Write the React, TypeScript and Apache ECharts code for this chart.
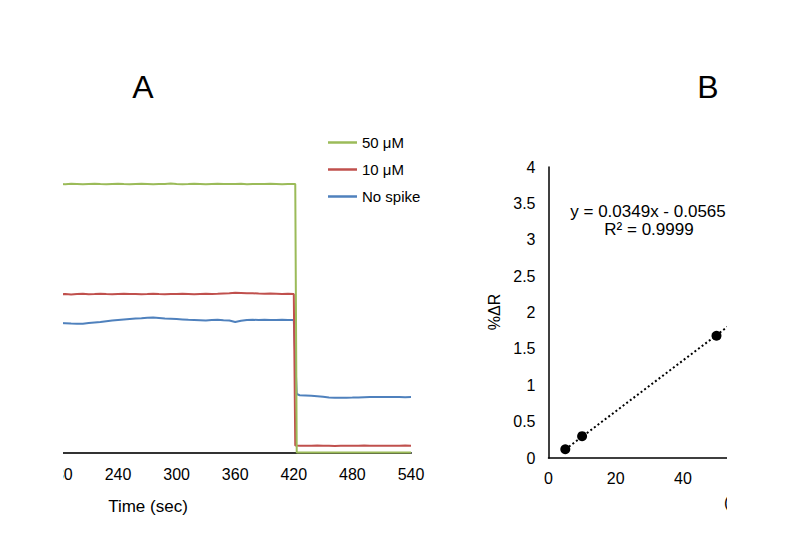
import React, { useEffect, useRef } from "react";
import * as echarts from "echarts";

const FONT = "'Liberation Sans', Arial, Helvetica, sans-serif";

// Panel A: time (sec)
const times = [
  180, 186, 192, 198, 204, 210, 216, 222, 228, 234, 240, 246, 252, 258, 264, 270, 276, 282, 288, 294,
  300, 306, 312, 318, 324, 330, 336, 342, 348, 354, 360, 366, 372, 378, 384, 390, 396, 402, 408, 414, 420,
  421.5, 423,
  426, 432, 438, 444, 450, 456, 462, 468, 474, 480, 486, 492, 498, 504, 510, 516, 522, 528, 534, 540,
];

const green50 = [
  2.69, 2.688, 2.692, 2.69, 2.687, 2.691, 2.693, 2.69, 2.688, 2.69, 2.692, 2.689, 2.687, 2.69, 2.693, 2.691,
  2.688, 2.69, 2.691, 2.694, 2.69, 2.688, 2.689, 2.692, 2.69, 2.687, 2.69, 2.693, 2.691, 2.689, 2.69, 2.692,
  2.688, 2.69, 2.691, 2.689, 2.692, 2.69, 2.688, 2.691, 2.69,
  2.689, 0.006,
  0.006, 0.005, 0.006, 0.005, 0.006, 0.005, 0.005, 0.006, 0.005, 0.006, 0.005, 0.005, 0.006, 0.005, 0.006,
  0.005, 0.005, 0.006, 0.005, 0.006,
];

const red10 = [
  1.588, 1.59, 1.586, 1.589, 1.592, 1.588, 1.59, 1.593, 1.589, 1.587, 1.59, 1.592, 1.589, 1.591, 1.588, 1.59,
  1.593, 1.59, 1.588, 1.591, 1.589, 1.592, 1.59, 1.588, 1.591, 1.593, 1.59, 1.592, 1.595, 1.598, 1.602, 1.6,
  1.597, 1.598, 1.594, 1.592, 1.595, 1.593, 1.59, 1.592, 1.589,
  0.076, 0.074,
  0.073, 0.072, 0.073, 0.074, 0.072, 0.073, 0.071, 0.072, 0.073, 0.072, 0.073, 0.074, 0.073, 0.072, 0.073,
  0.073, 0.072, 0.073, 0.074, 0.073,
];

const blueNoSpike = [
  1.3, 1.298, 1.294, 1.292, 1.293, 1.3, 1.305, 1.31, 1.318, 1.325, 1.33, 1.335, 1.34, 1.345, 1.348, 1.352,
  1.355, 1.35, 1.345, 1.343, 1.34, 1.336, 1.332, 1.33, 1.328, 1.326, 1.33, 1.332, 1.328, 1.325, 1.31, 1.322,
  1.33, 1.332, 1.33, 1.333, 1.331, 1.33, 1.332, 1.33, 1.33,
  0.95, 0.59,
  0.578, 0.575, 0.572, 0.568, 0.562, 0.556, 0.553, 0.552, 0.553, 0.554, 0.556, 0.558, 0.559, 0.56, 0.561,
  0.56, 0.559, 0.56, 0.558, 0.559,
];

const timeTicks = { min: 180, max: 540, interval: 60 };

// Panel B: calibration
const concX = [5, 10, 50];
const deltaR = [0.12, 0.3, 1.68];
const trendX = [5, 60];
const trendY = [0.118, 2.038];
const equationText = "y = 0.0349x - 0.0565";
const r2Text = "R² = 0.9999";

const seriesNames = ["50 μM", "10 μM", "No spike"];
const seriesColors = ["#9BBB59", "#C0504D", "#4F81BD"];

export default function App() {
  const ref = useRef<HTMLDivElement>(null);

  useEffect(() => {
    if (!ref.current) return;
    const chart = echarts.init(ref.current, null, { renderer: "svg" });
    const seriesValues = [green50, red10, blueNoSpike];

    const lineSeries = seriesValues.map((vals, i) => ({
      name: seriesNames[i],
      type: "line",
      xAxisIndex: 0,
      yAxisIndex: 0,
      data: times.map((t, j) => [t, vals[j]]),
      showSymbol: false,
      symbol: "none",
      color: seriesColors[i],
      lineStyle: { color: seriesColors[i], width: 2 },
      z: 5 - i,
    }));

    const option = {
      animation: false,
      textStyle: { fontFamily: FONT },
      grid: [
        { left: 59.4, top: 153, width: 351.6, height: 300 },
        { left: 548.5, top: 167, width: 201.6, height: 291 },
      ],
      xAxis: [
        {
          gridIndex: 0,
          type: "value",
          min: timeTicks.min,
          max: timeTicks.max,
          interval: timeTicks.interval,
          axisLine: { lineStyle: { color: "#333", width: 2 } },
          axisTick: { show: false },
          splitLine: { show: false },
          axisLabel: { color: "#000", fontSize: 16, margin: 13, fontFamily: FONT },
        },
        {
          gridIndex: 1,
          type: "value",
          min: 0,
          max: 60,
          interval: 20,
          axisLine: { lineStyle: { color: "#000", width: 1.5 } },
          axisTick: { show: false },
          splitLine: { show: false },
          axisLabel: { color: "#000", fontSize: 16, margin: 12, fontFamily: FONT },
        },
      ],
      yAxis: [
        { gridIndex: 0, type: "value", min: 0, max: 3, show: false },
        {
          gridIndex: 1,
          type: "value",
          min: 0,
          max: 4,
          interval: 0.5,
          axisLine: { show: true, lineStyle: { color: "#000", width: 1.5 } },
          axisTick: { show: false },
          splitLine: { show: false },
          axisLabel: { color: "#000", fontSize: 16, margin: 13, fontFamily: FONT },
        },
      ],
      legend: {
        orient: "vertical",
        left: 328,
        top: 135,
        padding: 0,
        data: seriesNames,
        icon: "rect",
        itemWidth: 29,
        itemHeight: 2.5,
        itemGap: 12,
        textStyle: { color: "#000", fontSize: 15, lineHeight: 15, fontFamily: FONT },
      },
      series: [
        ...lineSeries,
        {
          name: "trend",
          type: "line",
          xAxisIndex: 1,
          yAxisIndex: 1,
          data: trendX.map((x, i) => [x, trendY[i]]),
          showSymbol: false,
          symbol: "none",
          lineStyle: { color: "#000", width: 2, type: [2, 2.5] },
          z: 2,
        },
        {
          name: "points",
          type: "scatter",
          xAxisIndex: 1,
          yAxisIndex: 1,
          data: concX.map((x, i) => [x, deltaR[i]]),
          symbolSize: 10,
          itemStyle: { color: "#000", opacity: 1 },
          z: 5,
        },
      ],
      graphic: [
        { type: "rect", z: 100, shape: { x: 0, y: 120, width: 63, height: 420 }, style: { fill: "#fff" } },
        { type: "rect", z: 100, shape: { x: 727, y: 140, width: 62, height: 400 }, style: { fill: "#fff" } },
        {
          type: "text", z: 99, x: 724, y: 502,
          style: { text: "(µM)", font: `16px ${FONT}`, fill: "#000", textAlign: "left", textVerticalAlign: "middle" },
        },
        {
          type: "text", z: 101, x: 143, y: 87,
          style: { text: "A", font: `32px ${FONT}`, fill: "#000", textAlign: "center", textVerticalAlign: "middle" },
        },
        {
          type: "text", z: 101, x: 708, y: 87,
          style: { text: "B", font: `32px ${FONT}`, fill: "#000", textAlign: "center", textVerticalAlign: "middle" },
        },
        {
          type: "text", z: 101, x: 148, y: 506,
          style: { text: "Time (sec)", font: `17px ${FONT}`, fill: "#000", textAlign: "center", textVerticalAlign: "middle" },
        },
        {
          type: "text", z: 101, x: 648, y: 211,
          style: { text: equationText, font: `17px ${FONT}`, fill: "#000", textAlign: "center", textVerticalAlign: "middle" },
        },
        {
          type: "text", z: 101, x: 649, y: 229,
          style: { text: r2Text, font: `17px ${FONT}`, fill: "#000", textAlign: "center", textVerticalAlign: "middle" },
        },
        {
          type: "text", z: 101, x: 494, y: 312, rotation: Math.PI / 2,
          style: { text: "%ΔR", font: `16px ${FONT}`, fill: "#000", textAlign: "center", textVerticalAlign: "middle" },
        },
      ],
    };

    chart.setOption(option as any);
    return () => chart.dispose();
  }, []);

  return (
    <div
      ref={ref}
      style={{ position: "fixed", left: 0, top: 0, width: 789, height: 558, background: "#fff" }}
    />
  );
}
